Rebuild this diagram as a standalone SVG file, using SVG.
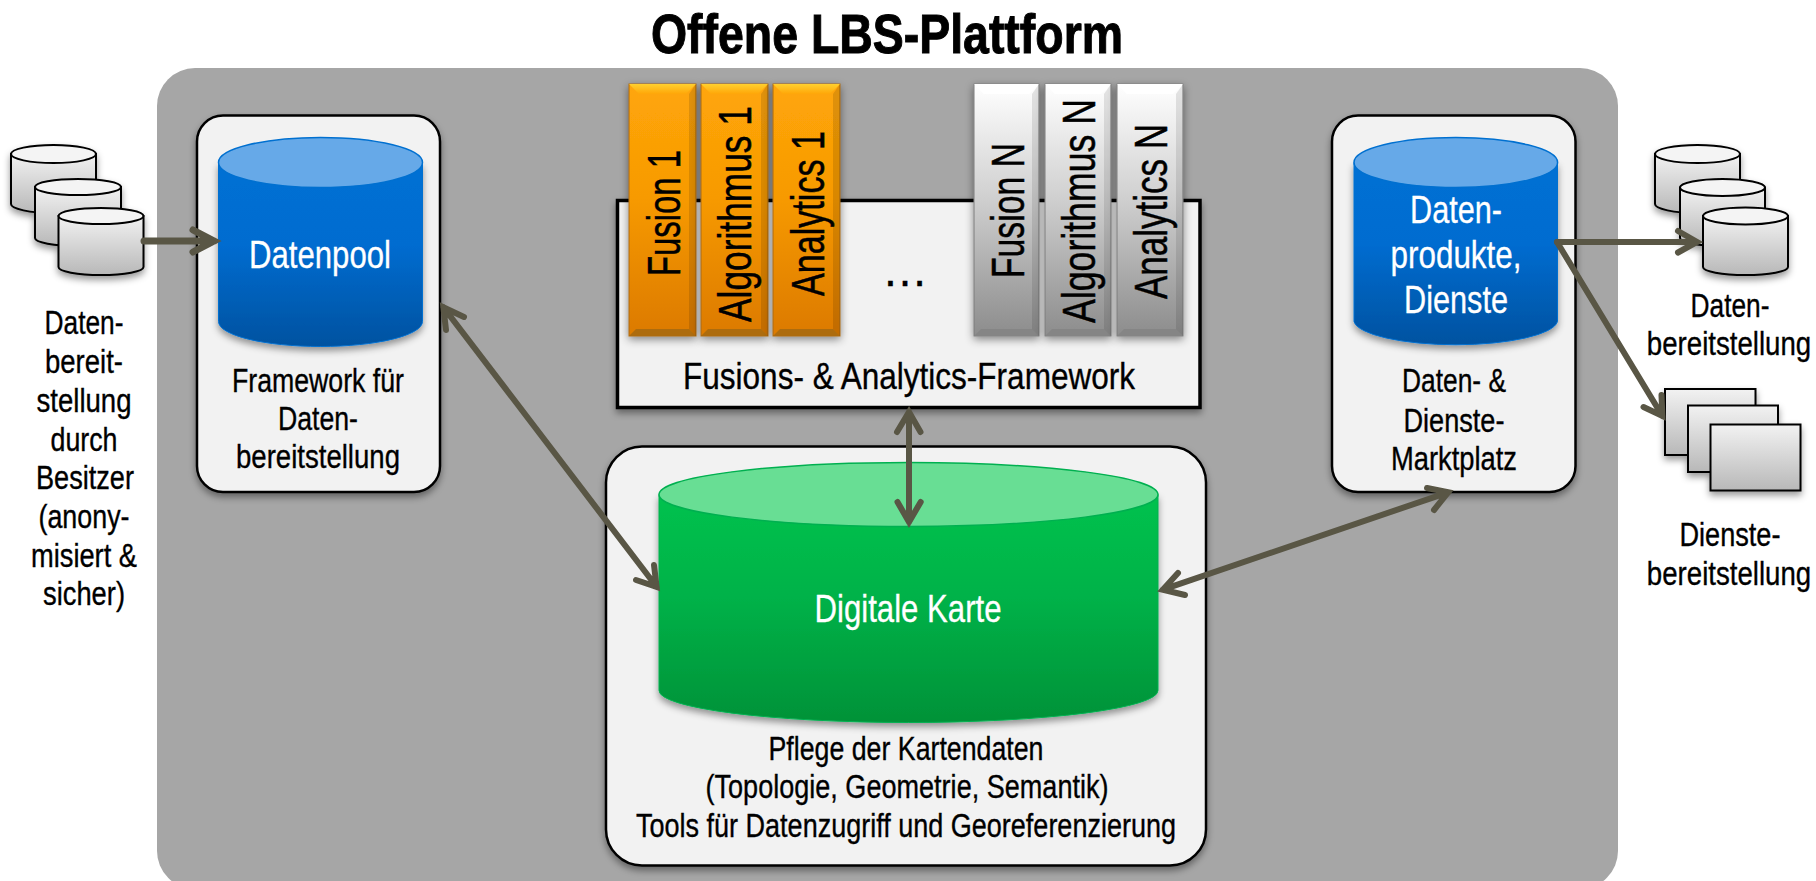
<svg xmlns="http://www.w3.org/2000/svg" width="1816" height="881" viewBox="0 0 1816 881">
<style>
text{font-family:"Liberation Sans",Arial,sans-serif;fill:#000;text-anchor:middle}
.lbl{font-size:32.500px;stroke:#000;stroke-width:.35}
.big{font-size:38px;fill:#fff;stroke:#fff;stroke-width:.3}
.bar{font-size:46px;text-anchor:start;stroke:#000;stroke-width:.5}
.box{fill:#f2f2f2;stroke:#000;stroke-width:2.5;filter:url(#sh)}
.small{fill:url(#gs);stroke:#000;stroke-width:2}
.top{fill:#f4f4f4;stroke:#000;stroke-width:2}
.conn{fill:none;stroke:#595645;stroke-width:6;stroke-linecap:round;stroke-linejoin:miter}
.or{fill:url(#go);stroke:#a86a10;stroke-width:1;filter:url(#shb)}
.gr{fill:url(#gw);stroke:#7c7c7c;stroke-width:1;filter:url(#shb)}
.ot{fill:url(#got)}.ob{fill:#ad6c0e}.os{fill:#000;opacity:.12}
.gt{fill:#fff}.gb{fill:#858585}.gs{fill:#000;opacity:.1}
</style>
<defs>
<filter id="sh" x="-10%" y="-10%" width="120%" height="125%"><feDropShadow dx="0" dy="4" stdDeviation="3.500" flood-color="#000" flood-opacity="0.4"/></filter>
<filter id="shb" x="-30%" y="-5%" width="160%" height="115%"><feDropShadow dx="0" dy="3" stdDeviation="4" flood-color="#000" flood-opacity="0.45"/></filter>
<linearGradient id="gs" x1="0" y1="0" x2="0" y2="1"><stop offset="0" stop-color="#f2f2f2"/><stop offset="1" stop-color="#b8b8b8"/></linearGradient>
<linearGradient id="gb" x1="0" y1="0" x2="0" y2="1"><stop offset="0" stop-color="#0070d4"/><stop offset="0.45" stop-color="#006cd0"/><stop offset="1" stop-color="#0052a0"/></linearGradient>
<linearGradient id="gg" x1="0" y1="0" x2="0" y2="1"><stop offset="0" stop-color="#00c24e"/><stop offset="0.45" stop-color="#00b248"/><stop offset="1" stop-color="#009238"/></linearGradient>
<linearGradient id="go" x1="0" y1="0" x2="0" y2="1"><stop offset="0" stop-color="#ffa608"/><stop offset="0.45" stop-color="#f79a04"/><stop offset="1" stop-color="#dc7a02"/></linearGradient>
<linearGradient id="got" x1="0" y1="0" x2="0" y2="1"><stop offset="0" stop-color="#ffd02e"/><stop offset="1" stop-color="#ffa608"/></linearGradient>
<linearGradient id="gw" x1="0" y1="0" x2="0" y2="1"><stop offset="0" stop-color="#ffffff"/><stop offset="0.45" stop-color="#d0d0d0"/><stop offset="1" stop-color="#8c8c8c"/></linearGradient>
</defs>

<text id="title" x="887" y="53" font-weight="700" font-size="56" textLength="472" lengthAdjust="spacingAndGlyphs" style="stroke:#000;stroke-width:1">Offene LBS-Plattform</text>
<rect id="panel" x="157" y="68" width="1461" height="821" rx="38" fill="#a6a6a6"/>

<g id="sources-left" filter="url(#sh)">
<path class="small" d="M11 154V204A42.500 9 0 0 0 96 204V154Z"/><ellipse class="top" cx="53.500" cy="154" rx="42.500" ry="9"/>
<path class="small" d="M35 187V238A43 8 0 0 0 121 238V187Z"/><ellipse class="top" cx="78" cy="187" rx="43" ry="8"/>
<path class="small" d="M58.500 216V267A42.500 8 0 0 0 143.500 267V216Z"/><ellipse class="top" cx="101" cy="216" rx="42.500" ry="8"/>
</g>
<g id="label-left">
<text class="lbl" x="84" y="334" textLength="79" lengthAdjust="spacingAndGlyphs">Daten-</text>
<text class="lbl" x="84" y="373" textLength="78" lengthAdjust="spacingAndGlyphs">bereit-</text>
<text class="lbl" x="84" y="412" textLength="95" lengthAdjust="spacingAndGlyphs">stellung</text>
<text class="lbl" x="84" y="451" textLength="67" lengthAdjust="spacingAndGlyphs">durch</text>
<text class="lbl" x="85" y="489" textLength="98" lengthAdjust="spacingAndGlyphs">Besitzer</text>
<text class="lbl" x="84" y="528" textLength="91" lengthAdjust="spacingAndGlyphs">(anony-</text>
<text class="lbl" x="84" y="567" textLength="106" lengthAdjust="spacingAndGlyphs">misiert &amp;</text>
<text class="lbl" x="84" y="605" textLength="82" lengthAdjust="spacingAndGlyphs">sicher)</text>
</g>

<g id="datenpool">
<rect class="box" x="197" y="115.500" width="243" height="376.500" rx="26"/>
<g filter="url(#sh)"><path d="M218.500 162.500V321.500A102 25 0 0 0 422.500 321.500V162.500Z" fill="url(#gb)" stroke="#0070d0" stroke-width="1"/></g>
<ellipse cx="320.500" cy="162.500" rx="102" ry="25" fill="#66a9e8" stroke="#0070d0" stroke-width="1.500"/>
<text class="big" x="320" y="268" textLength="142" lengthAdjust="spacingAndGlyphs">Datenpool</text>
<text class="lbl" x="318" y="392" textLength="172" lengthAdjust="spacingAndGlyphs">Framework für</text>
<text class="lbl" x="318" y="430" textLength="80" lengthAdjust="spacingAndGlyphs">Daten-</text>
<text class="lbl" x="318" y="468" textLength="164" lengthAdjust="spacingAndGlyphs">bereitstellung</text>
</g>

<g id="fusion-framework">
<rect class="box" x="617.500" y="200.500" width="582.500" height="207" style="stroke-width:3.500"/>
<text class="lbl" x="909" y="389" style="font-size:37px" textLength="452" lengthAdjust="spacingAndGlyphs">Fusions- &amp; Analytics-Framework</text>
<text class="lbl" x="905" y="286" style="font-size:46px" textLength="46" lengthAdjust="spacingAndGlyphs">…</text>
</g>

<g id="bars">
<g id="bar-fusion-1"><rect class="or" x="629" y="84" width="67" height="252"/><path class="ot" d="M629 84h67l-10 10h-47z"/><path class="ob" d="M629 336h67l-7-7h-53z"/><path class="os" d="M696 84v252l-7-7V94z"/><text class="bar" transform="translate(679.600 276) rotate(-90)" textLength="126" lengthAdjust="spacingAndGlyphs">Fusion 1</text></g>
<g id="bar-algorithmus-1"><rect class="or" x="701" y="84" width="67" height="252"/><path class="ot" d="M701 84h67l-10 10h-47z"/><path class="ob" d="M701 336h67l-7-7h-53z"/><path class="os" d="M768 84v252l-7-7V94z"/><text class="bar" transform="translate(751 322) rotate(-90)" textLength="216" lengthAdjust="spacingAndGlyphs">Algorithmus 1</text></g>
<g id="bar-analytics-1"><rect class="or" x="773" y="84" width="67" height="252"/><path class="ot" d="M773 84h67l-10 10h-47z"/><path class="ob" d="M773 336h67l-7-7h-53z"/><path class="os" d="M840 84v252l-7-7V94z"/><text class="bar" transform="translate(824 296) rotate(-90)" textLength="165" lengthAdjust="spacingAndGlyphs">Analytics 1</text></g>
<g id="bar-fusion-n"><rect class="gr" x="974" y="84" width="65" height="252"/><path class="gt" d="M974 84h65l-10 10h-45z"/><path class="gb" d="M974 336h65l-7-7h-51z"/><path class="gs" d="M1039 84v252l-7-7V94z"/><text class="bar" transform="translate(1024 278) rotate(-90)" textLength="135" lengthAdjust="spacingAndGlyphs">Fusion N</text></g>
<g id="bar-algorithmus-n"><rect class="gr" x="1045" y="84" width="66" height="252"/><path class="gt" d="M1045 84h66l-10 10h-46z"/><path class="gb" d="M1045 336h66l-7-7h-52z"/><path class="gs" d="M1111 84v252l-7-7V94z"/><text class="bar" transform="translate(1095 323) rotate(-90)" textLength="224" lengthAdjust="spacingAndGlyphs">Algorithmus N</text></g>
<g id="bar-analytics-n"><rect class="gr" x="1117" y="84" width="66" height="252"/><path class="gt" d="M1117 84h66l-10 10h-46z"/><path class="gb" d="M1117 336h66l-7-7h-52z"/><path class="gs" d="M1183 84v252l-7-7V94z"/><text class="bar" transform="translate(1167 299) rotate(-90)" textLength="175" lengthAdjust="spacingAndGlyphs">Analytics N</text></g>
</g>

<g id="karte">
<rect class="box" x="606" y="446.500" width="600" height="419" rx="36"/>
<g filter="url(#sh)"><path d="M659 494.500V690.500A249.500 32 0 0 0 1158 690.500V494.500Z" fill="url(#gg)" stroke="#00b050" stroke-width="1"/></g>
<ellipse cx="908.500" cy="494.500" rx="249.500" ry="32" fill="#68de94" stroke="#00b050" stroke-width="1.500"/>
<text class="big" x="908" y="622" textLength="187" lengthAdjust="spacingAndGlyphs">Digitale Karte</text>
<text class="lbl" x="906" y="760" textLength="275" lengthAdjust="spacingAndGlyphs">Pflege der Kartendaten</text>
<text class="lbl" x="907" y="798" textLength="403" lengthAdjust="spacingAndGlyphs">(Topologie, Geometrie, Semantik)</text>
<text class="lbl" x="906" y="837" textLength="540" lengthAdjust="spacingAndGlyphs">Tools für Datenzugriff und Georeferenzierung</text>
</g>

<g id="marktplatz">
<rect class="box" x="1332" y="115.500" width="243.500" height="376.500" rx="26"/>
<g filter="url(#sh)"><path d="M1354 162.500V321.500A102 25 0 0 0 1557.500 321.500V162.500Z" fill="url(#gb)" stroke="#0070d0" stroke-width="1"/></g>
<ellipse cx="1455.800" cy="162.500" rx="101.800" ry="25" fill="#66a9e8" stroke="#0070d0" stroke-width="1.500"/>
<text class="big" x="1456" y="223" textLength="92" lengthAdjust="spacingAndGlyphs">Daten-</text>
<text class="big" x="1456" y="268" textLength="131" lengthAdjust="spacingAndGlyphs">produkte,</text>
<text class="big" x="1456" y="313" textLength="104" lengthAdjust="spacingAndGlyphs">Dienste</text>
<text class="lbl" x="1454" y="392" textLength="104" lengthAdjust="spacingAndGlyphs">Daten- &amp;</text>
<text class="lbl" x="1454" y="432" textLength="101" lengthAdjust="spacingAndGlyphs">Dienste-</text>
<text class="lbl" x="1454" y="470" textLength="126" lengthAdjust="spacingAndGlyphs">Marktplatz</text>
</g>

<g id="sinks-data" filter="url(#sh)">
<path class="small" d="M1655 154V204A42.500 9 0 0 0 1740 204V154Z"/><ellipse class="top" cx="1697.500" cy="154" rx="42.500" ry="9"/>
<path class="small" d="M1680 187.500V238A42.500 8 0 0 0 1765 238V187.500Z"/><ellipse class="top" cx="1722.500" cy="187.500" rx="42.500" ry="8.500"/>
<path class="small" d="M1703 216V267A42.500 8 0 0 0 1788 267V216Z"/><ellipse class="top" cx="1745.500" cy="216" rx="42.500" ry="8.500"/>
</g>
<g id="sinks-services" filter="url(#sh)">
<rect class="small" x="1665" y="389" width="90.500" height="66"/>
<rect class="small" x="1688" y="405.500" width="90" height="66.500"/>
<rect class="small" x="1710.500" y="424.500" width="90" height="66"/>
</g>
<g id="labels-right">
<text class="lbl" x="1730" y="317" textLength="79" lengthAdjust="spacingAndGlyphs">Daten-</text>
<text class="lbl" transform="translate(1729 355) scale(.85 1)">bereitstellung</text>
<text class="lbl" x="1730" y="546" textLength="101" lengthAdjust="spacingAndGlyphs">Dienste-</text>
<text class="lbl" transform="translate(1729 585) scale(.85 1)">bereitstellung</text>
</g>

<g id="connectors">
<path class="conn" style="stroke-width:7" d="M144 241H214M193 230L214 241L193 252"/>
<path class="conn" d="M443.400 307.200L656.600 586.800M446 330L443.400 307.200L464 317M654 565L656.600 586.800L636 580"/>
<path class="conn" d="M909 412V522M897 432L909 412L920.500 432M897.500 502L909 522L920.700 502"/>
<path class="conn" d="M1162.800 589.700L1448.200 492.300M1178 573L1162.800 589.700L1185 595M1427 488L1448.200 492.300L1434 510"/>
<path class="conn" d="M1557 242H1697M1678 231L1697 242L1678 252.500"/>
<path class="conn" d="M1557 242L1662.400 416M1661.500 395L1662.400 416L1643.500 407"/>
</g>
</svg>
